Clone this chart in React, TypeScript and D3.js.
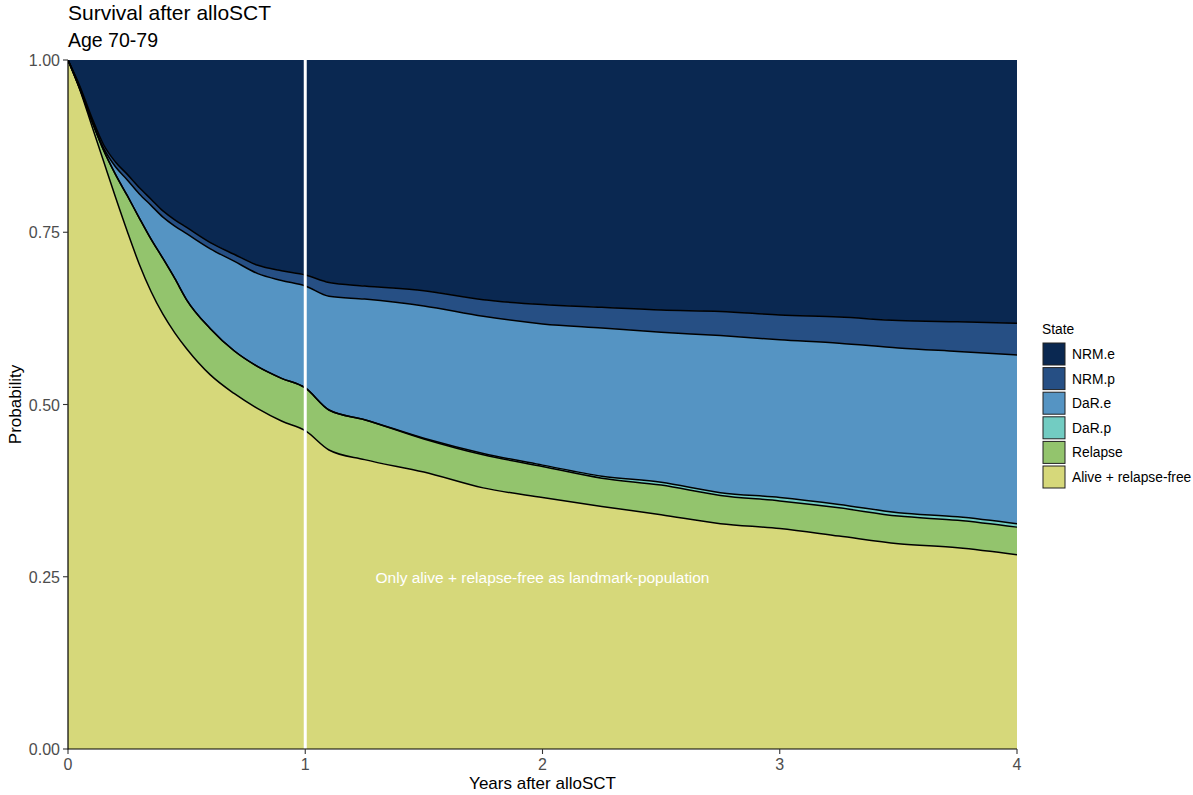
import React from "react";
import * as d3 from "d3";

const times = [0, 0.05, 0.1, 0.15, 0.2, 0.25, 0.3, 0.35, 0.4, 0.45, 0.5, 0.6, 0.7, 0.8, 0.9, 1.0, 1.1, 1.25, 1.5, 1.75, 2.0, 2.25, 2.5, 2.75, 3.0, 3.25, 3.5, 3.75, 4.0];
const aliveRF = [1, 0.957, 0.905, 0.853, 0.801, 0.751, 0.704, 0.664, 0.631, 0.604, 0.581, 0.543, 0.516, 0.494, 0.476, 0.462, 0.434, 0.42, 0.402, 0.379, 0.365, 0.352, 0.34, 0.327, 0.32, 0.309, 0.298, 0.292, 0.282];
const relapse = [0, 0.001, 0.007, 0.016, 0.033, 0.052, 0.067, 0.076, 0.081, 0.079, 0.071, 0.067, 0.062, 0.061, 0.062, 0.062, 0.058, 0.058, 0.048, 0.048, 0.045, 0.041, 0.043, 0.041, 0.04, 0.041, 0.04, 0.04, 0.04];
const darP = [0, 0, 0, 0, 0, 0, 0, 0, 0, 0, 0, 0, 0, 0, 0, 0, 0, 0, 0.001, 0.002, 0.002, 0.003, 0.004, 0.004, 0.005, 0.005, 0.005, 0.005, 0.005];
const darE = [0, 0.002, 0.001, 0.003, 0.011, 0.023, 0.035, 0.049, 0.06, 0.076, 0.096, 0.116, 0.13, 0.135, 0.142, 0.148, 0.165, 0.175, 0.192, 0.199, 0.205, 0.215, 0.218, 0.228, 0.229, 0.234, 0.239, 0.24, 0.245];
const nrmP = [0, 0.002, 0.004, 0.005, 0.007, 0.008, 0.009, 0.009, 0.009, 0.009, 0.009, 0.009, 0.01, 0.012, 0.014, 0.016, 0.02, 0.019, 0.022, 0.024, 0.028, 0.03, 0.032, 0.035, 0.036, 0.038, 0.04, 0.043, 0.046];
const nrmE = [0, 0.038, 0.083, 0.123, 0.148, 0.166, 0.185, 0.202, 0.219, 0.232, 0.243, 0.265, 0.282, 0.298, 0.306, 0.312, 0.323, 0.328, 0.335, 0.348, 0.355, 0.359, 0.363, 0.365, 0.37, 0.373, 0.378, 0.38, 0.382];

const stateKeys = ["Alive + relapse-free", "Relapse", "DaR.p", "DaR.e", "NRM.p", "NRM.e"];
const stateColors = ["#D6D87A", "#93C46D", "#72CCC2", "#5594C3", "#264F84", "#0A2851"];
const xTicks = [0, 1, 2, 3, 4];
const yTicks = [0, 0.25, 0.5, 0.75, 1];

export default function App() {
  const W = 1193, H = 795;
  const x = d3.scaleLinear().domain([0, 4]).range([68, 1017]);
  const y = d3.scaleLinear().domain([0, 1]).range([749, 60]);
  const series = [aliveRF, relapse, darP, darE, nrmP, nrmE];
  const rows = times.map((t, i) => {
    const r: any = { t };
    stateKeys.forEach((k, j) => (r[k] = series[j][i]));
    return r;
  });
  const stacked = d3.stack<any>().keys(stateKeys)(rows);
  const curve = d3.curveMonotoneX;
  const area = d3
    .area<any>()
    .x((d) => x(d.data.t))
    .y0((d) => y(d[0]))
    .y1((d) => y(Math.min(1, d[1])))
    .curve(curve);
  const line = d3
    .line<any>()
    .x((d) => x(d.data.t))
    .y((d) => y(Math.min(1, d[1])))
    .curve(curve);

  const font = "'Liberation Sans', Arial, sans-serif";
  const legendItems = [...stateKeys].reverse();
  const legendColors = [...stateColors].reverse();

  return (
    <svg width={W} height={H} style={{ position: "absolute", left: 0, top: 0, background: "#fff" }} fontFamily={font}>
      <defs>
        <clipPath id="plotclip">
          <rect x={68} y={60} width={949} height={689} />
        </clipPath>
      </defs>
      <g clipPath="url(#plotclip)">
        {stacked.map((s, i) => (
          <path key={"a" + i} d={area(s) || ""} fill={stateColors[i]} stroke="none" />
        ))}
        {stacked.slice(0, 5).map((s, i) => (
          <path key={"l" + i} d={line(s) || ""} fill="none" stroke="#000" strokeWidth={1.5} />
        ))}
      </g>
      <line x1={x(1)} x2={x(1)} y1={y(1)} y2={y(0)} stroke="#fff" strokeWidth={3} />
      <text x={x(2)} y={y(0.25) + 6} textAnchor="middle" fill="#fff" fontSize={15.5}>
        Only alive + relapse-free as landmark-population
      </text>
      <line x1={68} x2={68} y1={60} y2={749.5} stroke="#000" strokeWidth={1.2} />
      <line x1={67.5} x2={1017} y1={749} y2={749} stroke="#000" strokeWidth={1.2} />
      {yTicks.map((t) => (
        <g key={"yt" + t}>
          <line x1={63} x2={68} y1={y(t)} y2={y(t)} stroke="#333" strokeWidth={1.1} />
          <text x={60} y={y(t) + 6} textAnchor="end" fontSize={16} fill="#4D4D4D">
            {t.toFixed(2)}
          </text>
        </g>
      ))}
      {xTicks.map((t) => (
        <g key={"xt" + t}>
          <line x1={x(t)} x2={x(t)} y1={749} y2={754} stroke="#333" strokeWidth={1.1} />
          <text x={x(t)} y={770} textAnchor="middle" fontSize={16} fill="#4D4D4D">
            {t}
          </text>
        </g>
      ))}
      <text x={x(2)} y={789} textAnchor="middle" fontSize={17} fill="#000">
        Years after alloSCT
      </text>
      <text transform={`translate(21,${y(0.5)}) rotate(-90)`} textAnchor="middle" fontSize={17} fill="#000">
        Probability
      </text>
      <text x={68} y={20} fontSize={21} fill="#000">
        Survival after alloSCT
      </text>
      <text x={68} y={47} fontSize={19.5} fill="#000">
        Age 70-79
      </text>
      <text x={1042} y={334} fontSize={13.8} fill="#000">
        State
      </text>
      {legendItems.map((k, i) => (
        <g key={"lg" + i}>
          <rect x={1043} y={343 + i * 24.6} width={22} height={22} fill={legendColors[i]} stroke="#222" strokeWidth={1} />
          <text x={1072} y={359 + i * 24.6} fontSize={13.8} fill="#000">
            {k}
          </text>
        </g>
      ))}
    </svg>
  );
}
